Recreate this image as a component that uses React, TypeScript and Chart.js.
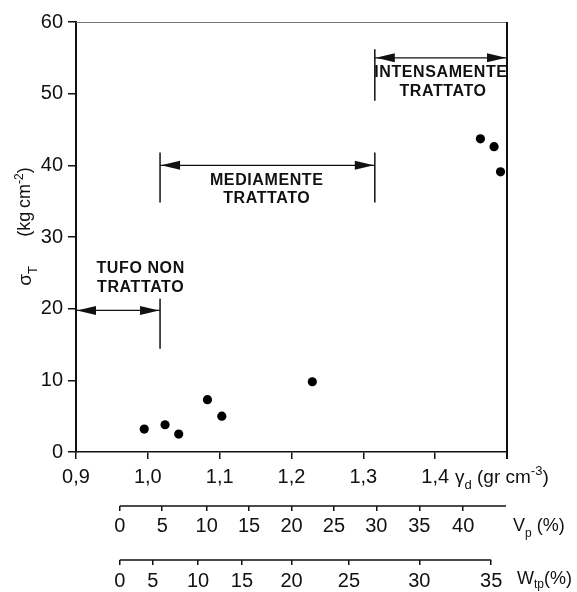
import React, { useEffect, useRef } from "react";
import { Chart, registerables } from "chart.js";

Chart.register(...registerables);

// ---- data ----
const GAMMA_D = [0.995, 1.024, 1.043, 1.083, 1.103, 1.229, 1.463, 1.482, 1.491];
const SIGMA_T = [3.2, 3.8, 2.5, 7.3, 5.0, 9.8, 43.7, 42.6, 39.1];

const X_TICKS = [0.9, 1.0, 1.1, 1.2, 1.3, 1.4, 1.5];
const X_TICK_LABELS = ["0,9", "1,0", "1,1", "1,2", "1,3", "1,4", ""];
const Y_TICKS = [0, 10, 20, 30, 40, 50, 60];

// secondary scales: tick labels and the gamma_d position where each falls
const VP_TICK_LABELS = ["0", "5", "10", "15", "20", "25", "30", "35", "40"];
const VP_TICK_GAMMA = [0.961, 1.020, 1.082, 1.141, 1.200, 1.259, 1.318, 1.378, 1.439];
const WTP_TICK_LABELS = ["0", "5", "10", "15", "20", "25", "30", "35"];
const WTP_TICK_GAMMA = [0.961, 1.007, 1.070, 1.131, 1.200, 1.280, 1.378, 1.478];

// treatment ranges (gamma_d start, end, sigma level of the arrow)
const RANGE_NAMES = ["TUFO NON TRATTATO", "MEDIAMENTE TRATTATO", "INTENSAMENTE TRATTATO"];
const RANGE_X0 = [0.9, 1.017, 1.316];
const RANGE_X1 = [1.017, 1.316, 1.5];
const RANGE_Y = [19.75, 40.0, 55.0];
// end bars of ranges: [gamma_d, sigma top, sigma bottom]
const RANGE_BARS: [number, number, number][] = [
  [1.017, 21.4, 14.4],
  [1.017, 41.8, 34.8],
  [1.316, 41.8, 34.8],
  [1.316, 56.2, 49.0],
];
// label lines: [text, gamma_d centre, sigma centre]
const RANGE_LABELS: [string, number, number][] = [
  ["TUFO NON", 0.99, 25.6],
  ["TRATTATO", 0.99, 22.9],
  ["MEDIAMENTE", 1.1655, 37.9],
  ["TRATTATO", 1.1655, 35.4],
  ["INTENSAMENTE", 1.408, 53.0],
  ["TRATTATO", 1.411, 50.3],
];

const FONT = "'Liberation Sans', Arial, sans-serif";
const INK = "#111";

type Part = { t: string; s?: "sub" | "sup" };

function drawRich(
  ctx: CanvasRenderingContext2D,
  parts: Part[],
  x: number,
  y: number,
  size: number,
  align: "left" | "center",
  subDrop = 0.3
) {
  const small = Math.round(size * 0.68);
  let w = 0;
  for (const p of parts) {
    ctx.font = `${p.s ? small : size}px ${FONT}`;
    w += ctx.measureText(p.t).width;
  }
  let cx = align === "center" ? x - w / 2 : x;
  ctx.textAlign = "left";
  ctx.textBaseline = "alphabetic";
  const base = y + size * 0.36;
  for (const p of parts) {
    ctx.font = `${p.s ? small : size}px ${FONT}`;
    const dy = p.s === "sub" ? size * subDrop : p.s === "sup" ? -size * 0.42 : 0;
    ctx.fillText(p.t, cx, base + dy);
    cx += ctx.measureText(p.t).width;
  }
}

function arrowHead(ctx: CanvasRenderingContext2D, tipX: number, y: number, dir: number) {
  const len = 19;
  const hw = 4.5;
  ctx.beginPath();
  ctx.moveTo(tipX, y);
  ctx.lineTo(tipX - dir * len, y - hw);
  ctx.lineTo(tipX - dir * len, y + hw);
  ctx.closePath();
  ctx.fill();
}

const decorPlugin = {
  id: "decor",
  afterDraw(chart: any) {
    const ctx: CanvasRenderingContext2D = chart.ctx;
    const x = chart.scales.x;
    const y = chart.scales.y;
    const vp = chart.scales.vp;
    const wtp = chart.scales.wtp;
    const ca = chart.chartArea;
    ctx.save();
    ctx.strokeStyle = INK;
    ctx.fillStyle = INK;

    // frame: top (light) and right (dark)
    ctx.lineWidth = 1;
    ctx.strokeStyle = "#777";
    ctx.beginPath();
    ctx.moveTo(ca.left, ca.top + 0.5);
    ctx.lineTo(ca.right, ca.top + 0.5);
    ctx.stroke();
    ctx.strokeStyle = INK;
    ctx.lineWidth = 2;
    ctx.beginPath();
    ctx.moveTo(ca.right, ca.top);
    ctx.lineTo(ca.right, ca.bottom + 7);
    ctx.stroke();

    // secondary axis lines
    ctx.lineWidth = 1.5;
    ctx.beginPath();
    ctx.moveTo(vp.getPixelForValue(VP_TICK_GAMMA[0]), vp.top);
    ctx.lineTo(vp.getPixelForValue(vp.max) - 1, vp.top);
    ctx.moveTo(wtp.getPixelForValue(WTP_TICK_GAMMA[0]), wtp.top);
    ctx.lineTo(wtp.getPixelForValue(WTP_TICK_GAMMA[WTP_TICK_GAMMA.length - 1]), wtp.top);
    ctx.stroke();

    // ranges
    ctx.lineWidth = 1.3;
    for (let i = 0; i < RANGE_NAMES.length; i++) {
      const px0 = x.getPixelForValue(RANGE_X0[i]);
      const px1 = x.getPixelForValue(RANGE_X1[i]);
      const py = y.getPixelForValue(RANGE_Y[i]);
      ctx.beginPath();
      ctx.moveTo(px0, py);
      ctx.lineTo(px1, py);
      ctx.stroke();
      arrowHead(ctx, px0 + 1, py, -1);
      arrowHead(ctx, px1 - 1, py, 1);
    }
    ctx.lineWidth = 1.5;
    for (const [bx, yt, yb] of RANGE_BARS) {
      const px = x.getPixelForValue(bx);
      ctx.beginPath();
      ctx.moveTo(px, y.getPixelForValue(yt));
      ctx.lineTo(px, y.getPixelForValue(yb));
      ctx.stroke();
    }
    ctx.font = `bold 16px ${FONT}`;
    (ctx as any).letterSpacing = "0.6px";
    ctx.textAlign = "center";
    ctx.textBaseline = "middle";
    for (const [t, lx, ly] of RANGE_LABELS) {
      ctx.fillText(t, x.getPixelForValue(lx), y.getPixelForValue(ly));
    }
    (ctx as any).letterSpacing = "0px";

    // axis titles
    drawRich(ctx, [{ t: "\u03b3" }, { t: "d", s: "sub" }, { t: " (gr cm" }, { t: "-3", s: "sup" }, { t: ")" }], 455, 476, 19, "left");
    drawRich(ctx, [{ t: "V" }, { t: "p", s: "sub" }, { t: " (%)" }], 513, 525, 18, "left");
    drawRich(ctx, [{ t: "W" }, { t: "tp", s: "sub" }, { t: "(%)" }], 517, 578, 18, "left", 0.2);

    ctx.save();
    ctx.translate(24, 0);
    ctx.rotate(-Math.PI / 2);
    drawRich(ctx, [{ t: "\u03c3" }, { t: "T", s: "sub" }], -276, 0, 19, "center");
    drawRich(ctx, [{ t: "(kg\u2009cm" }, { t: "-2", s: "sup" }, { t: ")" }], -202, 0, 18, "center");
    ctx.restore();

    ctx.restore();
  },
};

export default function App() {
  const ref = useRef<HTMLCanvasElement | null>(null);
  useEffect(() => {
    if (!ref.current) return;
    const tickFont = { family: FONT, size: 20 };
    const chart = new Chart(ref.current, {
      type: "scatter",
      data: {
        datasets: [
          {
            data: GAMMA_D.map((g, i) => ({ x: g, y: SIGMA_T[i] })),
            pointRadius: 4.6,
            pointBackgroundColor: "#000",
            pointBorderColor: "#000",
            pointBorderWidth: 0,
          },
        ],
      },
      options: {
        animation: false,
        responsive: false,
        layout: { padding: { top: 22, right: 70, left: 0, bottom: 0 } },
        plugins: { legend: { display: false }, tooltip: { enabled: false } },
        scales: {
          x: {
            type: "linear",
            position: "bottom",
            weight: 0,
            min: 0.9,
            max: 1.5,
            afterBuildTicks: (s: any) => {
              s.ticks = X_TICKS.map((v) => ({ value: v }));
            },
            afterFit: (s: any) => {
              s.height = 54;
            },
            ticks: {
              callback: (_v: any, i: number) => X_TICK_LABELS[i],
              font: tickFont,
              color: INK,
              padding: 6,
              autoSkip: false,
              maxRotation: 0,
            },
            grid: { drawOnChartArea: false, tickLength: 7, color: INK, lineWidth: 1.5 },
            border: { color: INK, width: 1.5 },
          },
          vp: {
            type: "linear",
            position: "bottom",
            weight: 1,
            min: 0.9,
            max: 1.5,
            afterBuildTicks: (s: any) => {
              s.ticks = VP_TICK_GAMMA.map((v) => ({ value: v }));
            },
            afterFit: (s: any) => {
              s.height = 54;
            },
            ticks: {
              callback: (_v: any, i: number) => VP_TICK_LABELS[i],
              font: tickFont,
              color: INK,
              padding: 3,
              autoSkip: false,
              maxRotation: 0,
            },
            grid: { drawOnChartArea: false, tickLength: 5, color: INK, lineWidth: 1.5 },
            border: { display: false },
          },
          wtp: {
            type: "linear",
            position: "bottom",
            weight: 2,
            min: 0.9,
            max: 1.5,
            afterBuildTicks: (s: any) => {
              s.ticks = WTP_TICK_GAMMA.map((v) => ({ value: v }));
            },
            afterFit: (s: any) => {
              s.height = 32;
            },
            ticks: {
              callback: (_v: any, i: number) => WTP_TICK_LABELS[i],
              font: tickFont,
              color: INK,
              padding: 4,
              autoSkip: false,
              maxRotation: 0,
            },
            grid: { drawOnChartArea: false, tickLength: 5, color: INK, lineWidth: 1.5 },
            border: { display: false },
          },
          y: {
            type: "linear",
            min: 0,
            max: 60,
            afterBuildTicks: (s: any) => {
              s.ticks = Y_TICKS.map((v) => ({ value: v }));
            },
            afterFit: (s: any) => {
              s.width = 76;
            },
            ticks: { font: tickFont, color: INK, padding: 5 },
            grid: { drawOnChartArea: false, tickLength: 8, color: INK, lineWidth: 1.5 },
            border: { color: INK, width: 2 },
          },
        },
      } as any,
      plugins: [decorPlugin],
    });
    return () => chart.destroy();
  }, []);
  return (
    <div style={{ position: "fixed", left: 0, top: 0, width: 577, height: 592, background: "#fff" }}>
      <canvas ref={ref} width={577} height={592} style={{ display: "block" }} />
    </div>
  );
}
